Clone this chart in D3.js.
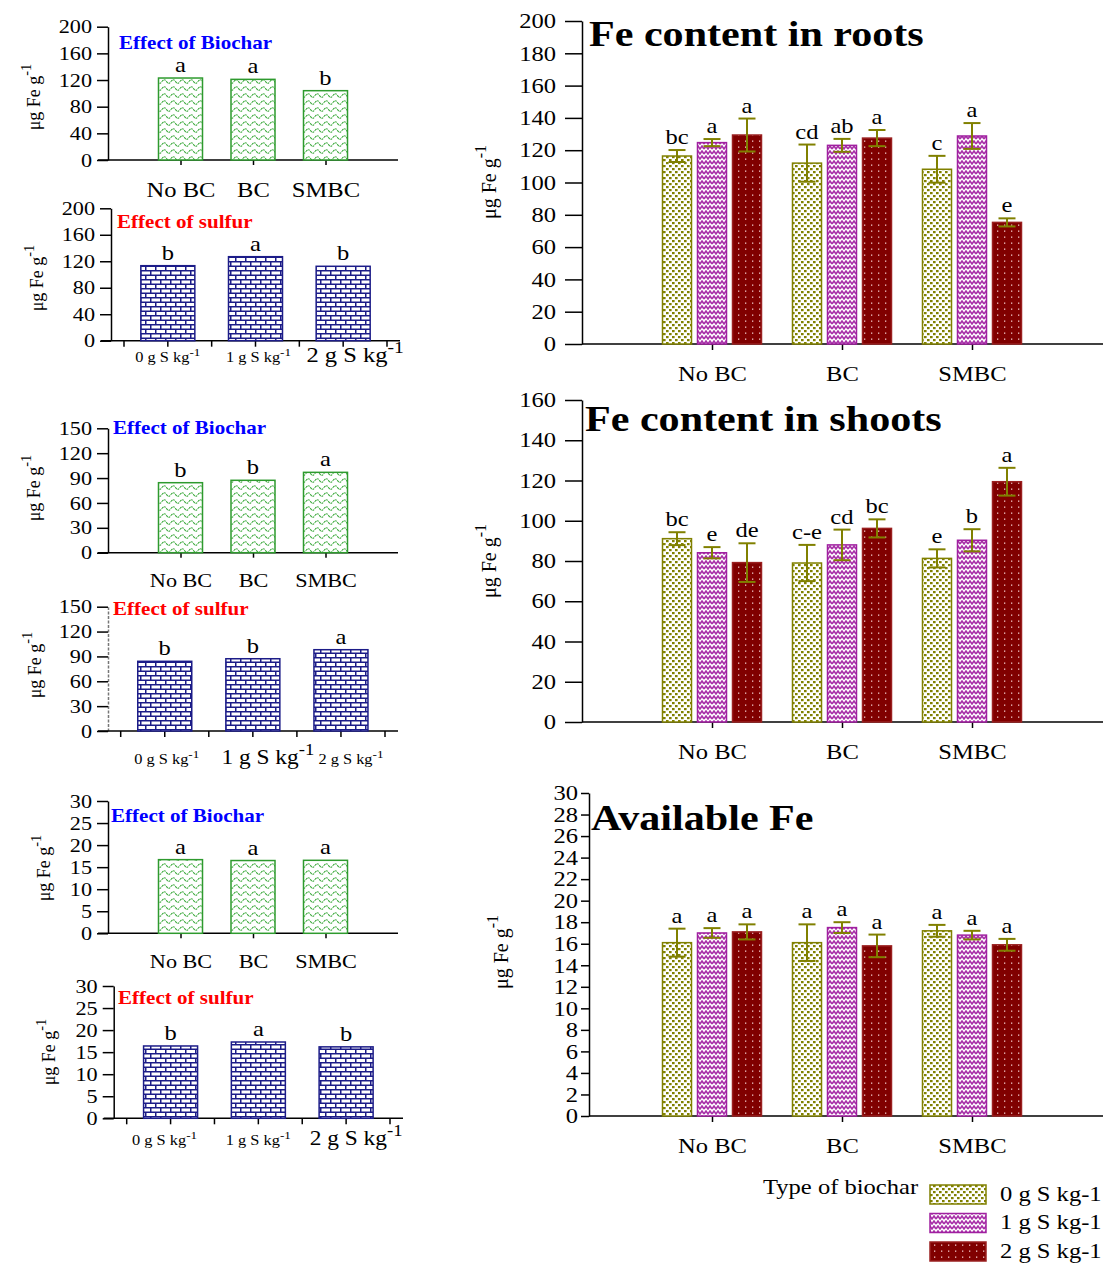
<!DOCTYPE html>
<html>
<head>
<meta charset="utf-8">
<script src="https://cdn.jsdelivr.net/npm/d3@7"></script>
<style>
  body { margin: 0; background: #fff; }
  svg { font-family: "Liberation Serif", "Times New Roman", serif; }
  .axis path, .axis line { stroke: #000; stroke-width: 1.5px; }
  .axis text { fill: #000; font-family: "Liberation Serif", serif; }
  .wide { transform-box: fill-box; transform: scaleX(1.17); }
</style>
</head>
<body>
<svg id="fig" width="1104" height="1264"></svg>
<script>
// ---- data ----
const groups = ["No BC", "BC", "SMBC"];
const sulfurLevels = ["0 g S kg-1", "1 g S kg-1", "2 g S kg-1"];

// main panels: rows = biochar type, columns = sulfur level
const rootMeans = [[116.4, 124.7, 129.4], [112.0, 123.0, 127.5], [108.2, 128.8, 75.3]];
const rootErr = [[3.7, 2.2, 10.2], [11.5, 4.0, 5.0], [8.3, 8.0, 2.5]];
const rootLetters = [["bc", "a", "a"], ["cd", "ab", "a"], ["c", "a", "e"]];

const shootMeans = [[91.1, 84.1, 79.2], [79.0, 88.0, 96.2], [81.3, 90.3, 119.4]];
const shootErr = [[3.2, 2.8, 9.6], [9.0, 7.6, 4.5], [4.5, 5.5, 6.9]];
const shootLetters = [["bc", "e", "de"], ["c-e", "cd", "bc"], ["e", "b", "a"]];

const availMeans = [[16.1, 17.0, 17.1], [16.1, 17.5, 15.8], [17.2, 16.8, 15.9]];
const availErr = [[1.3, 0.45, 0.7], [1.7, 0.5, 1.05], [0.55, 0.4, 0.55]];
const availLetters = [["a", "a", "a"], ["a", "a", "a"], ["a", "a", "a"]];

// side panels: main effects
const biocharRoots = [123, 121, 104];
const biocharRootLetters = ["a", "a", "b"];
const sulfurRoots = [113.3, 126.9, 112.4];
const sulfurRootLetters = ["b", "a", "b"];
const biocharShoots = [84.4, 87.3, 96.9];
const biocharShootLetters = ["b", "b", "a"];
const sulfurShoots = [84.1, 87.2, 98.1];
const sulfurShootLetters = ["b", "b", "a"];
const biocharAvail = [16.7, 16.5, 16.55];
const biocharAvailLetters = ["a", "a", "a"];
const sulfurAvail = [16.4, 17.3, 16.2];
const sulfurAvailLetters = ["b", "a", "b"];

const rootTicks = d3.range(0, 201, 20);
const shootTicks = d3.range(0, 161, 20);
const availTicks = d3.range(0, 31, 2);
const smallRootTicks = [0, 40, 80, 120, 160, 200];
const smallShootTicks = [0, 30, 60, 90, 120, 150];
const smallAvailTicks = [0, 5, 10, 15, 20, 25, 30];

// ---- setup ----
const svg = d3.select("#fig");
const defs = svg.append("defs");

function pattern(id, w, h, bg, build) {
  const p = defs.append("pattern").attr("id", id)
      .attr("width", w).attr("height", h)
      .attr("patternUnits", "userSpaceOnUse");
  p.append("rect").attr("width", w).attr("height", h).attr("fill", bg);
  build(p);
}
pattern("pOlive", 6, 6, "#fff", p => {
  p.append("rect").attr("x", 0).attr("y", 0).attr("width", 2.6).attr("height", 2.2).attr("fill", "#808000");
  p.append("rect").attr("x", 3).attr("y", 3).attr("width", 2.6).attr("height", 2.2).attr("fill", "#808000");
});
pattern("pPurple", 8, 5, "#fff", p => {
  p.append("path").attr("d", "M0,4 L2,1 L4,4 L6,1 L8,4")
      .attr("stroke", "#a830a8").attr("stroke-width", 1.6).attr("fill", "none");
});
pattern("pRed", 7, 6, "#800000", p => {
  p.append("rect").attr("x", 3).attr("y", 2.5).attr("width", 1.3).attr("height", 1.3).attr("fill", "#f0c8c8");
});
pattern("pGreen", 9, 7, "#fff", p => {
  p.append("path").attr("d", "M0,4.5 Q2.25,1 4.5,4.5 T9,4.5")
      .attr("stroke", "#38a838").attr("stroke-width", 1.1).attr("fill", "none")
      .attr("stroke-dasharray", "2,0.7");
});
pattern("pBrick", 10, 9, "#fff", p => {
  p.append("path").attr("d", "M0,0.75H10 M0,5.25H10 M0.75,0V4.5 M5.75,4.5V9")
      .attr("stroke", "#1c1c88").attr("stroke-width", 1.5).attr("fill", "none");
});

const sulfurFill = ["url(#pOlive)", "url(#pPurple)", "url(#pRed)"];
const sulfurStroke = ["#808000", "#a020a0", "#9a2020"];
const errColor = "#808000";

function yLabel(x, y, size) {
  const t = svg.append("text")
      .attr("transform", `translate(${x},${y}) rotate(-90)`)
      .attr("text-anchor", "middle")
      .style("font-size", size + "px");
  t.append("tspan").text("\u03bcg Fe g");
  t.append("tspan").attr("dy", "-0.6em").style("font-size", (size * 0.8) + "px").text("-1");
}

function supLabel(x, y, size, label) {
  const parts = label.split("-");
  const t = svg.append("text").attr("x", x).attr("y", y)
      .attr("text-anchor", "middle").style("font-size", size + "px");
  t.append("tspan").text(parts[0]);
  t.append("tspan").attr("dy", "-0.55em").style("font-size", (size * 0.8) + "px").text("-" + parts[1]);
}

// ---- main grouped panels ----
function groupedChart(c) {
  const y = d3.scaleLinear().domain([0, c.max]).range([c.y0, c.yTop]);
  const x = d3.scaleLinear().domain([0, 4]).range([582, 1102]);
  const xs = d3.scaleBand().domain(sulfurLevels).range([-49.5, 49.5]).paddingInner(6 / 35);

  svg.append("g").attr("class", "axis")
      .attr("transform", `translate(${c.ax},0)`)
      .call(d3.axisLeft(y).tickValues(c.ticks).tickSize(c.tick).tickPadding(c.pad).tickSizeOuter(0))
      .call(g => g.selectAll("text").style("font-size", "21px"));

  svg.append("g").attr("class", "axis")
      .attr("transform", `translate(0,${c.y0})`)
      .call(d3.axisBottom(x).tickValues([1, 2, 3]).tickFormat(d => groups[d - 1]).tickSize(6).tickPadding(16))
      .call(g => g.select(".domain").remove())
      .call(g => g.selectAll("text").style("font-size", "21px"));
  svg.append("line").attr("x1", c.ax).attr("x2", 1103).attr("y1", c.y0).attr("y2", c.y0)
      .attr("stroke", "#000").attr("stroke-width", 1.5);

  groups.forEach((gname, gi) => {
    const cx = x(gi + 1);
    sulfurLevels.forEach((s, si) => {
      const v = c.means[gi][si], e = c.err[gi][si];
      const bx = cx + xs(s);
      svg.append("rect").attr("x", bx).attr("y", y(v))
          .attr("width", xs.bandwidth()).attr("height", c.y0 - y(v))
          .attr("fill", sulfurFill[si]).attr("stroke", sulfurStroke[si]).attr("stroke-width", 1.5);
      const mx = bx + xs.bandwidth() / 2;
      svg.append("line").attr("x1", mx).attr("x2", mx).attr("y1", y(v + e)).attr("y2", y(v - e))
          .attr("stroke", errColor).attr("stroke-width", 2);
      [v + e, v - e].forEach(t => svg.append("line")
          .attr("x1", mx - 8.5).attr("x2", mx + 8.5).attr("y1", y(t)).attr("y2", y(t))
          .attr("stroke", errColor).attr("stroke-width", 2));
      svg.append("text").attr("x", mx).attr("y", y(v + e) - 6)
          .attr("text-anchor", "middle").style("font-size", "21px")
          .text(c.letters[gi][si]);
    });
  });

  svg.append("text").attr("x", c.tx).attr("y", c.ty)
      .style("font-size", "36px").style("font-weight", "bold").text(c.title);
  yLabel(c.lx, c.ly, 20);
}

groupedChart({ means: rootMeans, err: rootErr, letters: rootLetters, max: 200, ticks: rootTicks,
  ax: 582, y0: 344, yTop: 21, tick: 17, pad: 9, title: "Fe content in roots", tx: 589, ty: 46, lx: 496, ly: 182 });
groupedChart({ means: shootMeans, err: shootErr, letters: shootLetters, max: 160, ticks: shootTicks,
  ax: 582, y0: 722, yTop: 400, tick: 17, pad: 9, title: "Fe content in shoots", tx: 585, ty: 431, lx: 496, ly: 561 });
groupedChart({ means: availMeans, err: availErr, letters: availLetters, max: 30, ticks: availTicks,
  ax: 589, y0: 1116, yTop: 793, tick: 8, pad: 3, title: "Available Fe", tx: 591, ty: 830, lx: 508, ly: 952 });

// ---- side panels: biochar effect ----
function biocharChart(c) {
  const y = d3.scaleLinear().domain([0, c.max]).range([c.y0, c.yTop]);
  const x = d3.scaleLinear().domain([0, 4]).range([c.ax, c.ax + 290]);
  svg.append("g").attr("class", "axis")
      .attr("transform", `translate(${c.ax},0)`)
      .call(d3.axisLeft(y).tickValues(c.ticks).tickSize(11).tickPadding(5).tickSizeOuter(0))
      .call(g => g.selectAll("text").style("font-size", "19px"));
  svg.append("g").attr("class", "axis")
      .attr("transform", `translate(0,${c.y0})`)
      .call(d3.axisBottom(x).tickValues([1, 2, 3]).tickFormat(d => groups[d - 1]).tickSize(5).tickPadding(c.catPad))
      .call(g => g.select(".domain").remove())
      .call(g => g.selectAll("text").style("font-size", c.catSize + "px"));
  svg.append("line").attr("x1", c.ax - 10).attr("x2", c.ax + 290).attr("y1", c.y0).attr("y2", c.y0)
      .attr("stroke", "#000").attr("stroke-width", 1.5);
  c.values.forEach((v, i) => {
    svg.append("rect").attr("x", x(i + 1) - 22).attr("y", y(v))
        .attr("width", 44).attr("height", c.y0 - y(v))
        .attr("fill", "url(#pGreen)").attr("stroke", "#2e9a2e").attr("stroke-width", 1.5);
    svg.append("text").attr("x", x(i + 1)).attr("y", y(v) - 6)
        .attr("text-anchor", "middle").style("font-size", "21px").text(c.letters[i]);
  });
  svg.append("text").attr("x", c.tx).attr("y", c.ty).attr("fill", "#0000ff")
      .style("font-size", "18px").style("font-weight", "bold").text("Effect of Biochar");
  yLabel(c.lx, c.ly, 18);
}

// ---- side panels: sulfur effect ----
function sulfurChart(c) {
  const y = d3.scaleLinear().domain([0, c.max]).range([c.y0, c.yTop]);
  const x = d3.scaleBand().domain(sulfurLevels).range([c.b0, c.b1]);
  const ya = svg.append("g").attr("class", "axis")
      .attr("transform", `translate(${c.ax},0)`)
      .call(d3.axisLeft(y).tickValues(c.ticks).tickSize(11).tickPadding(5).tickSizeOuter(0))
      .call(g => g.selectAll("text").style("font-size", "19px"));
  if (c.dashed) ya.select(".domain").style("stroke", "#777").style("stroke-dasharray", "3,1.5");
  svg.append("line").attr("x1", c.ax - 10).attr("x2", c.b1 + 13).attr("y1", c.y0).attr("y2", c.y0)
      .attr("stroke", "#000").attr("stroke-width", 1.5);
  const tickXs = [];
  sulfurLevels.forEach(s => { tickXs.push(x(s), x(s) + x.bandwidth() / 2); });
  tickXs.push(c.b1);
  tickXs.forEach(t => svg.append("line").attr("x1", t).attr("x2", t)
      .attr("y1", c.y0).attr("y2", c.y0 + 6).attr("stroke", "#000").attr("stroke-width", 1.5));
  sulfurLevels.forEach((s, i) => {
    const cx = x(s) + x.bandwidth() / 2;
    const v = c.values[i];
    svg.append("rect").attr("x", cx - 27).attr("y", y(v))
        .attr("width", 54).attr("height", c.y0 - y(v))
        .attr("fill", "url(#pBrick)").attr("stroke", "#1c1c88").attr("stroke-width", 1.5);
    svg.append("text").attr("x", cx).attr("y", y(v) - 6)
        .attr("text-anchor", "middle").style("font-size", "21px").text(c.letters[i]);
    supLabel(cx + c.labDx[i], c.labY, c.labSize[i], s);
  });
  svg.append("text").attr("x", c.tx).attr("y", c.ty).attr("fill", "#ff0000")
      .style("font-size", "18px").style("font-weight", "bold").text(c.title);
  yLabel(c.lx, c.ly, 18);
}

biocharChart({ values: biocharRoots, letters: biocharRootLetters, max: 200, ticks: smallRootTicks,
  ax: 108, y0: 160, yTop: 26.7, catSize: 21, catPad: 17, tx: 119, ty: 49, lx: 40, ly: 97 });
sulfurChart({ values: sulfurRoots, letters: sulfurRootLetters, max: 200, ticks: smallRootTicks,
  ax: 111, y0: 340.7, yTop: 208.3, b0: 124, b1: 387, title: "Effect of  sulfur", tx: 117, ty: 228,
  labY: 362, labSize: [14, 14, 21], labDx: [0, 3, 12], lx: 43, ly: 278 });

biocharChart({ values: biocharShoots, letters: biocharShootLetters, max: 150, ticks: smallShootTicks,
  ax: 108, y0: 552.7, yTop: 428.3, catSize: 19, catPad: 16, tx: 113, ty: 434, lx: 40, ly: 488 });
sulfurChart({ values: sulfurShoots, letters: sulfurShootLetters, max: 150, ticks: smallShootTicks,
  ax: 108, y0: 731, yTop: 606.7, b0: 120.7, b1: 385, title: "Effect of sulfur", tx: 113, ty: 615, dashed: true,
  labY: 764, labSize: [14, 20, 14], labDx: [2, 15, 10], lx: 41, ly: 665 });

biocharChart({ values: biocharAvail, letters: biocharAvailLetters, max: 30, ticks: smallAvailTicks,
  ax: 108, y0: 933.3, yTop: 801, catSize: 19, catPad: 16, tx: 111, ty: 822, lx: 50, ly: 868 });
sulfurChart({ values: sulfurAvail, letters: sulfurAvailLetters, max: 30, ticks: smallAvailTicks,
  ax: 113.7, y0: 1118.3, yTop: 986, b0: 126.7, b1: 390, title: "Effect of sulfur", tx: 118, ty: 1004,
  labY: 1145, labSize: [14, 14, 20], labDx: [-6, 0, 10], lx: 55, ly: 1052 });

// ---- legend ----
svg.append("text").attr("x", 763).attr("y", 1194).style("font-size", "21px").text("Type of biochar");
sulfurLevels.forEach((s, i) => {
  const ly = 1185 + i * 28.5;
  svg.append("rect").attr("x", 930).attr("y", ly).attr("width", 56).attr("height", 19)
      .attr("fill", sulfurFill[i]).attr("stroke", sulfurStroke[i]).attr("stroke-width", 1.5);
  svg.append("text").attr("x", 1000).attr("y", ly + 16).style("font-size", "21px").text(s);
});

// the source figure's lettering is horizontally stretched; widen the upright text to match
svg.selectAll("text").each(function () {
  if (this.getAttribute("transform")) return;
  const anchor = getComputedStyle(this).textAnchor;
  const origin = anchor === "end" ? "right center" : anchor === "middle" ? "center center" : "left center";
  d3.select(this).classed("wide", true).style("transform-origin", origin);
});
</script>
</body>
</html>
